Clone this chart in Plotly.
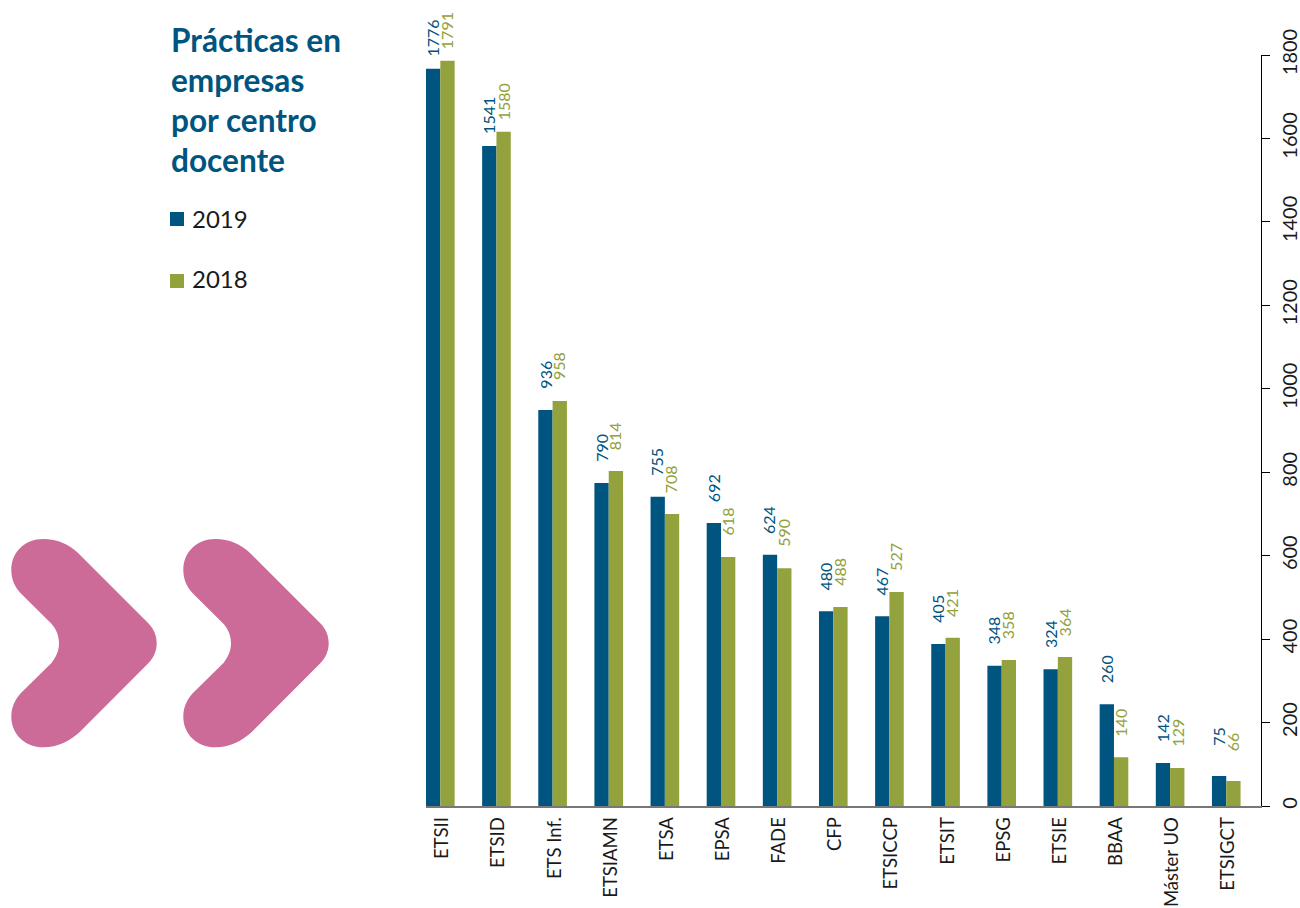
import plotly.graph_objects as go

W, H = 1300, 908

categories = ["ETSII", "ETSID", "ETS Inf.", "ETSIAMN", "ETSA", "EPSA", "FADE", "CFP",
              "ETSICCP", "ETSIT", "EPSG", "ETSIE", "BBAA", "Máster UO", "ETSIGCT"]
# Bar heights as drawn in the picture (they differ a little from the printed labels)
bars_2019 = [1767, 1582, 949, 774, 741, 678, 602, 467, 455, 388, 336, 328, 244, 103, 72]
bars_2018 = [1786, 1616, 971, 803, 700, 597, 570, 477, 513, 403, 350, 357, 117, 91, 60]
# Printed labels
labels_2019 = [1776, 1541, 936, 790, 755, 692, 624, 480, 467, 405, 348, 324, 260, 142, 75]
labels_2018 = [1791, 1580, 958, 814, 708, 618, 590, 488, 527, 421, 358, 364, 140, 129, 66]
# Gap between bar top and its label, in px
label_gaps = [10, 10, 19, 19, 19, 19, 19, 19, 19, 19, 19, 19, 19, 19, 28]

y_ticks = [0, 200, 400, 600, 800, 1000, 1200, 1400, 1600, 1800]
title_lines = ["Prácticas en", "empresas", "por centro", "docente"]

BLUE = "#005580"
GREEN = "#93A23C"
PINK = "#CC6A98"
INK = "#1a1a1a"
FONT = "Lato"


def px(x):
    return x / W


def py(y):
    return 1 - y / H


fig = go.Figure()
fig.add_bar(name="2019", x=categories, y=bars_2019, marker=dict(color=BLUE, line=dict(width=0)))
fig.add_bar(name="2018", x=categories, y=bars_2018, marker=dict(color=GREEN, line=dict(width=0)))

annotations = []
for a, (cat, gap) in enumerate(zip(categories, label_gaps)):
    for vals, labs, col, dx in ((bars_2019, labels_2019, BLUE, -8), (bars_2018, labels_2018, GREEN, 6.5)):
        annotations.append(dict(
            x=cat, y=vals[a], xref="x", yref="y", text=str(labs[a]), showarrow=False,
            textangle=-90, yanchor="bottom", xanchor="center", xshift=dx, yshift=gap,
            font=dict(family=FONT, size=16, color=col),
        ))

for i, line in enumerate(title_lines):
    annotations.append(dict(
        x=px(168.5), y=py(40 + 40 * i), xref="paper", yref="paper", text=f"<b>{line}</b>",
        showarrow=False, xanchor="left", yanchor="middle",
        font=dict(family=FONT, size=31.6, color=BLUE, weight=900),
    ))

shapes = []
for name, col, cy, ty in (("2019", BLUE, 219, 219), ("2018", GREEN, 281, 278)):
    shapes.append(dict(type="rect", xref="paper", yref="paper", x0=px(170), x1=px(184),
                       y0=py(cy - 7), y1=py(cy + 7), fillcolor=col, line=dict(width=0)))
    annotations.append(dict(
        x=px(190), y=py(ty), xref="paper", yref="paper", text=name, showarrow=False,
        xanchor="left", yanchor="middle", font=dict(family=FONT, size=24, color=INK),
    ))

chevron = [
    ("M", 20.7, 593.3), ("C", 14.7, 587, 11.3, 579, 11.3, 570), ("C", 11.3, 552, 25, 539, 43.3, 539),
    ("C", 57, 539, 69, 544, 78.3, 553.3), ("L", 148.3, 623.3),
    ("C", 153.5, 628.5, 156.7, 635.5, 156.7, 643.3), ("C", 156.7, 651, 153.5, 658, 148.3, 663.3),
    ("L", 80, 731.7), ("C", 70, 741, 58, 747.3, 43.3, 747.3), ("C", 25, 747.3, 11.3, 734, 11.3, 716.7),
    ("C", 11.3, 707, 15, 700, 20.7, 693.3), ("L", 51.7, 662.7),
    ("C", 56, 657, 59, 651, 59, 643.3), ("C", 59, 635.5, 56, 629, 51.7, 624),
]


def chevron_path(dx):
    parts = []
    for seg in chevron:
        nums = seg[1:]
        pts = [f"{px(nums[i] + dx):.5f},{py(nums[i + 1]):.5f}" for i in range(0, len(nums), 2)]
        parts.append(seg[0] + " ".join(pts))
    return " ".join(parts) + " Z"


for dx in (0, 172):
    shapes.append(dict(type="path", xref="paper", yref="paper", path=chevron_path(dx),
                       fillcolor=PINK, line=dict(width=0)))

fig.update_layout(
    width=W, height=H, autosize=False,
    margin=dict(l=0, r=0, t=0, b=0, pad=0),
    paper_bgcolor="white", plot_bgcolor="white",
    barmode="group", bargap=0.49, bargroupgap=0,
    showlegend=False,
    annotations=annotations, shapes=shapes,
    xaxis=dict(
        domain=[px(426), px(1260.5)], range=[-0.255, 14.61], type="category",
        categoryorder="array", categoryarray=categories, automargin=False,
        showgrid=False, zeroline=False, showline=True, linecolor="#777777", linewidth=1.5,
        ticks="", tickangle=-90, ticklabelstandoff=2, ticklabelshift=2,
        tickfont=dict(family=FONT, size=18.5, color=INK),
    ),
    yaxis=dict(
        domain=[py(806), py(55)], range=[0, 1800], side="right", automargin=False,
        tickvals=y_ticks, showgrid=False, zeroline=False,
        showline=True, linecolor="black", linewidth=1,
        ticks="outside", ticklen=8, tickwidth=1, tickcolor="black",
        tickangle=-90, ticklabelstandoff=3,
        tickfont=dict(family=FONT, size=20, color=INK),
    ),
)

fig.write_html("out.html", config={"displayModeBar": False},
               post_script="document.body.style.margin='0';")
